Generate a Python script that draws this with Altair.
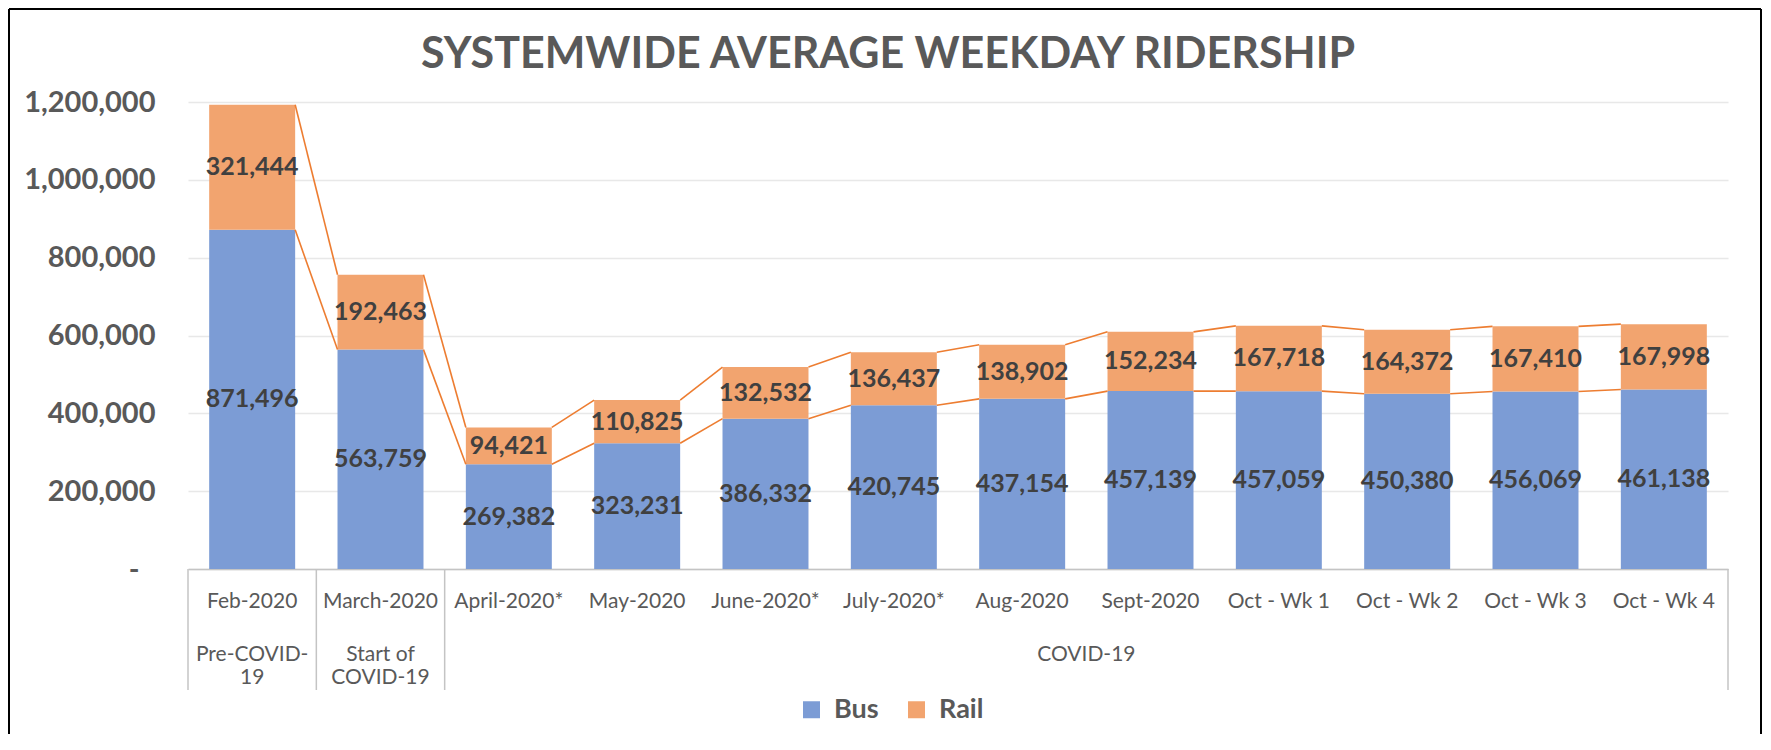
import altair as alt
import pandas as pd

# ---------------- data ----------------
categories = ["Feb-2020", "March-2020", "April-2020*", "May-2020", "June-2020*",
              "July-2020*", "Aug-2020", "Sept-2020", "Oct - Wk 1", "Oct - Wk 2",
              "Oct - Wk 3", "Oct - Wk 4"]
bus = [871496, 563759, 269382, 323231, 386332, 420745, 437154, 457139,
       457059, 450380, 456069, 461138]
rail = [321444, 192463, 94421, 110825, 132532, 136437, 138902, 152234,
        167718, 164372, 167410, 167998]
series = ["Bus", "Rail"]
group_labels = ["Pre-COVID-\n19", "Start of\nCOVID-19", "COVID-19"]
group_first = [0, 1, 2]
group_last = [0, 1, 11]
y_ticks = [0, 200000, 400000, 600000, 800000, 1000000, 1200000]
title_text = "SYSTEMWIDE AVERAGE WEEKDAY RIDERSHIP"

# ---------------- style ----------------
W, H = 1540, 467
HALF = 0.335          # half bar width in category units
FONT = "Lato"
BUS_C, RAIL_C = "#7C9CD5", "#F2A46F"
LINE_C = "#ED7D31"
AX_C = "#C4C4C4"
TXT = "#595959"
LBL = "#404040"

# ---------------- tables ----------------
bar_rows = []
for i, cat in enumerate(categories):
    b, r = bus[i], rail[i]
    bar_rows.append(dict(idx=i, cat=cat, series="Bus", x0=i - HALF, x1=i + HALF,
                         y0=0, y1=b, mid=b / 2, value=b))
    bar_rows.append(dict(idx=i, cat=cat, series="Rail", x0=i - HALF, x1=i + HALF,
                         y0=b, y1=b + r, mid=b + r / 2, value=r))
bars_df = pd.DataFrame(bar_rows)

seg_rows = []
for i in range(len(categories) - 1):
    seg_rows.append(dict(x0=i + HALF, x1=i + 1 - HALF, y0=bus[i], y1=bus[i + 1]))
    seg_rows.append(dict(x0=i + HALF, x1=i + 1 - HALF,
                         y0=bus[i] + rail[i], y1=bus[i + 1] + rail[i + 1]))
segs_df = pd.DataFrame(seg_rows)

cats_df = pd.DataFrame({"idx": list(range(len(categories))), "cat": categories})
groups_df = pd.DataFrame({
    "center": [(a + b) / 2 for a, b in zip(group_first, group_last)],
    "label": group_labels,
})
sep_df = pd.DataFrame({"b": [group_first[0] - 0.5] + [g + 0.5 for g in group_last]})

xscale = alt.Scale(domain=[-0.5, len(categories) - 0.5], nice=False, zero=False)
yscale = alt.Scale(domain=[0, y_ticks[-1]], nice=False)

x_axis = alt.Axis(labels=False, ticks=False, grid=False, title=None,
                  domainColor=AX_C, domainWidth=1.5)
y_axis = alt.Axis(values=y_ticks, title=None, ticks=False, domain=False,
                  labelExpr="datum.value == 0 ? '-' : format(datum.value, ',')",
                  labelFont=FONT, labelFontWeight="bold", labelFontSize=29,
                  labelColor=TXT,
                  labelPadding=alt.condition("datum.value == 0", alt.value(49), alt.value(33)),
                  labelFlush=False,
                  labelOverlap=False, gridColor="#E8E8E8", gridWidth=1.5)

# ---------------- layers ----------------
bars = alt.Chart(bars_df).mark_rect().encode(
    x=alt.X("x0:Q", scale=xscale, axis=x_axis),
    x2="x1:Q",
    y=alt.Y("y0:Q", scale=yscale, axis=y_axis),
    y2="y1:Q",
    color=alt.Color("series:N",
                    scale=alt.Scale(domain=series, range=[BUS_C, RAIL_C]),
                    legend=alt.Legend(orient="none", legendX=610, legendY=594,
                                      direction="horizontal", title=None,
                                      symbolType="square", symbolSize=289,
                                      symbolStrokeWidth=0, symbolOpacity=1,
                                      labelFont=FONT, labelFontWeight="bold",
                                      labelFontSize=27, labelColor=TXT,
                                      labelOffset=9, columnPadding=24)),
)

series_lines = alt.Chart(segs_df).mark_rule(color=LINE_C, strokeWidth=1.6).encode(
    x=alt.X("x0:Q", scale=xscale, axis=x_axis),
    x2="x1:Q",
    y=alt.Y("y0:Q", scale=yscale, axis=y_axis),
    y2="y1:Q",
)

value_labels = alt.Chart(bars_df).mark_text(
    font=FONT, fontWeight="bold", fontSize=25, color=LBL, baseline="middle"
).encode(
    x=alt.X("idx:Q", scale=xscale, axis=x_axis),
    y=alt.Y("mid:Q", scale=yscale, axis=y_axis),
    text=alt.Text("value:Q", format=","),
)

cat_labels = alt.Chart(cats_df).mark_text(
    font=FONT, fontSize=21, color=TXT, baseline="alphabetic"
).encode(
    x=alt.X("idx:Q", scale=xscale, axis=x_axis),
    y=alt.value(H + 39),
    text="cat:N",
)

group_text = alt.Chart(groups_df).mark_text(
    font=FONT, fontSize=21, color=TXT, baseline="alphabetic",
    lineBreak="\n", lineHeight=23
).encode(
    x=alt.X("center:Q", scale=xscale, axis=x_axis),
    y=alt.value(H + 92),
    text="label:N",
)

separators = alt.Chart(sep_df).mark_rule(color=AX_C, strokeWidth=1.5).encode(
    x=alt.X("b:Q", scale=xscale, axis=x_axis),
    y=alt.value(H),
    y2=alt.value(H + 121),
)

title = alt.Chart(pd.DataFrame({"t": [title_text]})).mark_text(
    font=FONT, fontWeight="bold", fontSize=43, color=TXT,
    baseline="alphabetic", align="center"
).encode(
    text="t:N",
    x=alt.value(700),
    y=alt.value(-34),
)

frame_df = pd.DataFrame({"k": [0]})
frame_left = alt.Chart(frame_df).mark_rule(color="#000000", strokeWidth=2).encode(
    x=alt.value(-179), y=alt.value(-93), y2=alt.value(H + 170))
frame_right = alt.Chart(frame_df).mark_rule(color="#000000", strokeWidth=2).encode(
    x=alt.value(1573), y=alt.value(-93), y2=alt.value(H + 170))
frame_top = alt.Chart(frame_df).mark_rule(color="#000000", strokeWidth=2).encode(
    x=alt.value(-179), x2=alt.value(1573), y=alt.value(-93))

chart = alt.layer(
    bars, series_lines, value_labels, cat_labels, group_text, separators,
    title, frame_left, frame_right, frame_top
).properties(
    width=W, height=H,
    autosize=alt.AutoSizeParams(type="none"),
    padding={"left": 180, "top": 94, "right": 35, "bottom": 165},
    background="white",
).configure_view(stroke=None)

chart.save("out.html", embed_options={"renderer": "svg", "actions": False})
